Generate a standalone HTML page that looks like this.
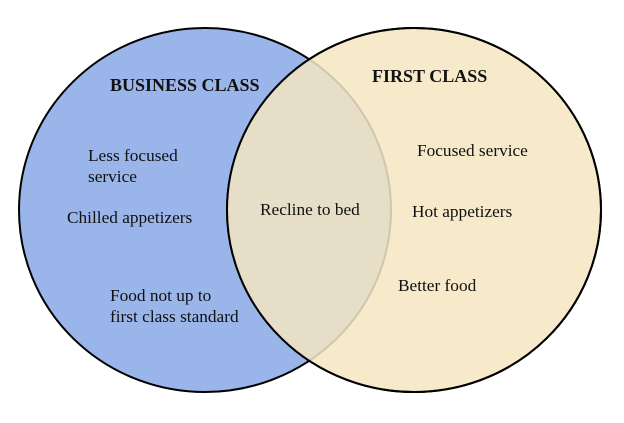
<!DOCTYPE html>
<html><head><style>
html,body{margin:0;padding:0;background:#fff;}
svg{display:block;}
text{font-family:"Liberation Serif",serif;font-size:17.3px;fill:#111;}
</style></head><body>
<svg width="624" height="423" viewBox="0 0 624 423" xmlns="http://www.w3.org/2000/svg">
<defs><clipPath id="r"><ellipse cx="414" cy="210" rx="187" ry="182"/></clipPath></defs>
<ellipse cx="205" cy="210" rx="186" ry="182" fill="#99b5ea" stroke="#000" stroke-width="2"/>
<ellipse cx="414" cy="210" rx="187" ry="182" fill="#f6eacb" stroke="#000" stroke-width="2"/>
<g clip-path="url(#r)"><ellipse cx="205" cy="210" rx="186" ry="182" fill="#e7dec7" stroke="#cfc6ad" stroke-width="2"/></g>
<ellipse cx="414" cy="210" rx="187" ry="182" fill="none" stroke="#000" stroke-width="2"/>
<text x="110" y="91" style="font-weight:bold;font-size:18px">BUSINESS CLASS</text>
<text x="372" y="82" style="font-weight:bold;font-size:18px">FIRST CLASS</text>
<text x="88" y="161">Less focused</text>
<text x="88" y="182">service</text>
<text x="67" y="223">Chilled appetizers</text>
<text x="110" y="301">Food not up to</text>
<text x="110" y="322">first class standard</text>
<text x="260" y="215">Recline to bed</text>
<text x="417" y="156">Focused service</text>
<text x="412" y="217">Hot appetizers</text>
<text x="398" y="291">Better food</text>
</svg>
</body></html>
